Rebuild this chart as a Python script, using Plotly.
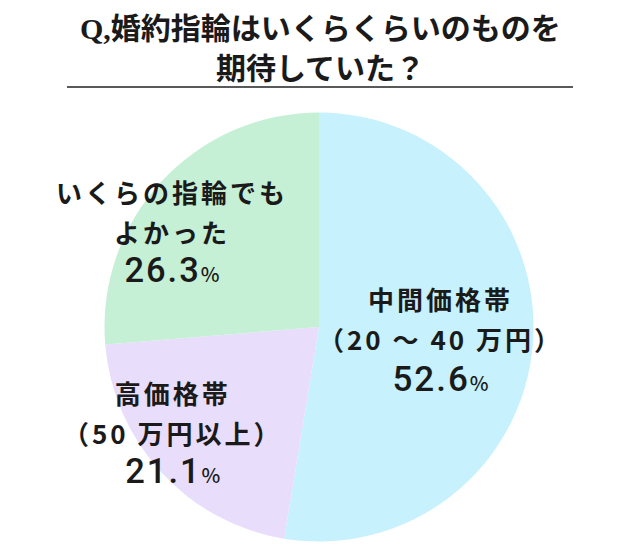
import plotly.graph_objects as go

# Data
categories = ["中間価格帯", "高価格帯", "いくらの指輪でも"]
sub_labels = ["（20 ～ 40 万円）", "（50 万円以上）", "よかった"]
values = [52.6, 21.1, 26.3]
colors = ["#c6f1fd", "#e9ddfc", "#c5f0d5"]
title_lines = ["Q,婚約指輪はいくらくらいのものを", "期待していた？"]

W, H = 640, 560
cx, cy, r = 319, 327, 214.5

fig = go.Figure(go.Pie(
    labels=categories,
    values=values,
    sort=False,
    direction="clockwise",
    rotation=0,
    marker=dict(colors=colors, line=dict(width=0)),
    textinfo="none",
    hoverinfo="skip",
    showlegend=False,
    domain=dict(x=[(cx - r) / W, (cx + r) / W], y=[(H - cy - r) / H, (H - cy + r) / H]),
))

font_jp = "Noto Sans CJK JP"
# (center x, center y, base font size, number font size) for each slice label block
label_pos = [(440, 340, 31, 35), (173, 432, 30.5, 34.5), (172, 231, 30.5, 34.5)]
sp = "letter-spacing:3px"

anns = []
for i, (x, y, fs, nfs) in enumerate(label_pos):
    text = (f"<b><span style='font-size:26px;{sp}'>{categories[i]}</span></b><br>"
            f"<b><span style='font-size:26px;{sp}'>{sub_labels[i]}</span></b><br>"
            f"<span style='font-family:Roboto;font-weight:500;font-size:{nfs}px;letter-spacing:2px'>{values[i]:.1f}</span>"
            f"<span style='font-size:20px;font-weight:500'>%</span>")
    anns.append(dict(x=x / W, y=1 - y / H, text=text,
                     font=dict(size=fs, family=font_jp, color="#1a1a1a")))

for j, (t, py) in enumerate(zip(title_lines, [28, 68])):
    anns.append(dict(x=0.5, y=1 - py / H, text=f"<b>{t}</b>",
                     font=dict(size=30, family="Liberation Serif, Noto Sans CJK JP", color="#1a1a1a")))

for a in anns:
    a.update(xref="paper", yref="paper", showarrow=False, xanchor="center", yanchor="middle")

fig.update_layout(
    width=W, height=H,
    margin=dict(l=0, r=0, t=0, b=0),
    paper_bgcolor="white", plot_bgcolor="white",
    annotations=anns,
    shapes=[dict(type="line", xref="paper", yref="paper", x0=67 / W, x1=573 / W,
                 y0=1 - 87 / H, y1=1 - 87 / H, line=dict(color="#222222", width=1.5))],
)

fig.write_html("out.html", config={"displayModeBar": False},
               post_script="document.body.style.margin='0';")
